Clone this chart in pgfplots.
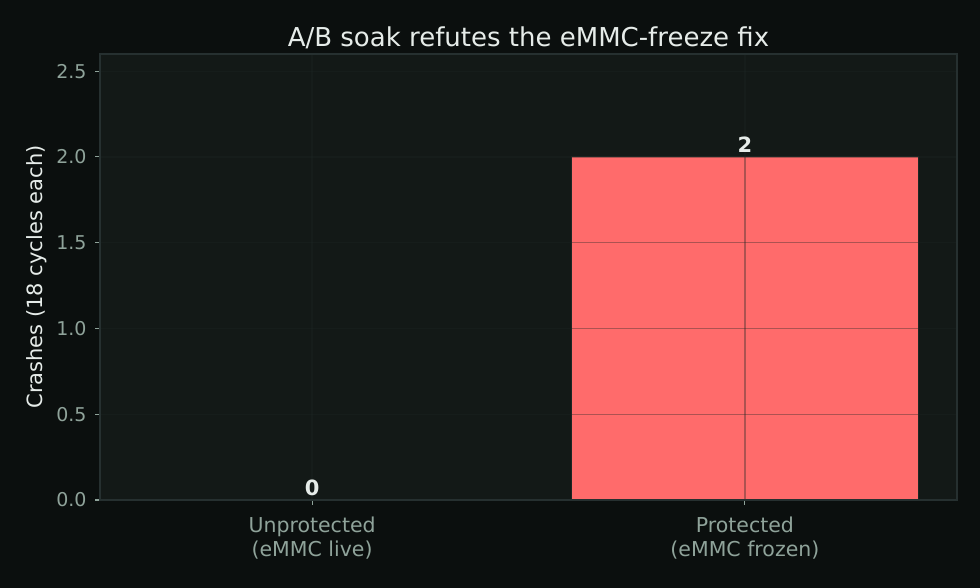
\documentclass[border=0pt]{standalone}
\usepackage{fontspec}
\setmainfont{DejaVu Sans}
\usepackage{pgfplots}
\pgfplotsset{compat=1.18}
\definecolor{figbg}{HTML}{0B0F0E}
\definecolor{axbg}{HTML}{131917}
\definecolor{spine}{HTML}{263030}
\definecolor{gridc}{HTML}{1E2624}
\definecolor{tickc}{HTML}{8FA39A}
\definecolor{titlec}{HTML}{E6ECE9}
\definecolor{barc}{HTML}{FF6B6B}
\definecolor{baredge}{HTML}{1E2624}
\begin{document}
\begin{tikzpicture}
\fill[figbg] (0,0) rectangle (980bp,588bp);
\useasboundingbox (0,0) rectangle (980bp,588bp);
\begin{axis}[
  at={(100bp,88bp)}, anchor=south west,
  scale only axis, width=857bp, height=446bp,
  xmin=-0.49, xmax=1.49, ymin=0, ymax=2.6,
  axis background/.style={fill=axbg},
  axis line style={spine, line width=1.1bp},
  axis on top=true,
  ytick={0,0.5,1,1.5,2,2.5},
  xtick={0,1},
  xticklabels={{Unprotected\\(eMMC live)},{Protected\\(eMMC frozen)}},
  xticklabel style={align=center, text=tickc, font=\fontsize{20.5bp}{24.5bp}\selectfont, yshift=-8bp},
  yticklabel style={text=tickc, font=\fontsize{19bp}{22bp}\selectfont, xshift=-5bp},
  /pgf/number format/assume math mode=true,
  /pgf/number format/.cd, fixed, fixed zerofill, precision=1, /pgfplots/.cd,
  tick align=outside, tick pos=left,
  major tick length=5bp,
  tick style={tickc, line width=1.1bp},
  grid=major,
  major grid style={gridc, opacity=0.36, line width=1.2bp},
  title={A/B soak refutes the eMMC-freeze fix},
  title style={text=titlec, font=\fontsize{26bp}{31bp}\selectfont, yshift=-4bp},
  ylabel={Crashes (18 cycles each)},
  ylabel style={text=titlec, font=\fontsize{21bp}{24bp}\selectfont, yshift=3bp},
  ybar, bar width=0.8, bar shift=0pt,
  nodes near coords,
  nodes near coords style={text=titlec, font=\fontsize{21bp}{24bp}\selectfont\bfseries, /pgf/number format/precision=0, /pgf/number format/fixed zerofill=false, inner sep=1bp, yshift=3bp},
]
\addplot[fill=barc, draw=baredge, line width=1.1bp] coordinates {(0,0) (1,2)};
\end{axis}
\end{tikzpicture}
\end{document}
